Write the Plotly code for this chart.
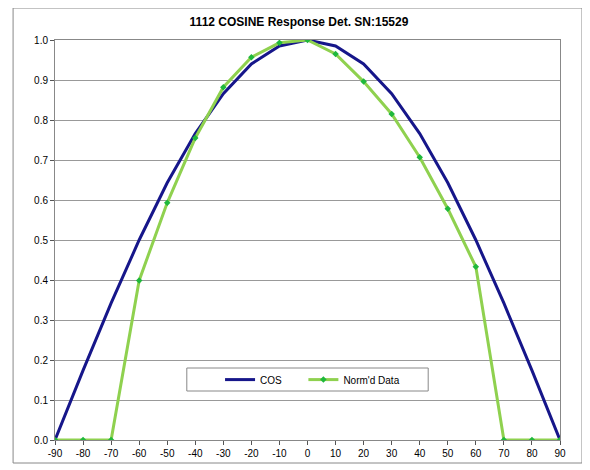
import plotly.graph_objects as go

angles = [-90, -80, -70, -60, -50, -40, -30, -20, -10, 0, 10, 20, 30, 40, 50, 60, 70, 80, 90]
angle_labels = ["-90", "-80", "-70", "-60", "-50", "-40", "-30", "-20", "-10", "0",
                "10", "20", "30", "40", "50", "60", "70", "80", "90"]
cos_vals = [0.0, 0.174, 0.342, 0.5, 0.643, 0.766, 0.866, 0.940, 0.985, 1.0,
            0.985, 0.940, 0.866, 0.766, 0.643, 0.5, 0.342, 0.174, 0.0]
norm_vals = [0.0, 0.0, 0.0, 0.399, 0.593, 0.755, 0.882, 0.957, 0.993, 1.0,
             0.965, 0.896, 0.815, 0.707, 0.578, 0.433, 0.0, 0.0, 0.0]

fig = go.Figure()
fig.add_trace(go.Scatter(x=angles, y=cos_vals, name="COS" + "\u00a0" * 6, mode="lines",
                         line=dict(color="#16168a", width=3)))
fig.add_trace(go.Scatter(x=angles, y=norm_vals, name="Norm'd Data", mode="lines+markers",
                         line=dict(color="#8fd14f", width=3),
                         marker=dict(symbol="diamond", size=5, color="#1fb83c")))

# outer chart border
fig.add_shape(type="rect", xref="paper", yref="paper",
              x0=-0.083, x1=1.0436, y0=-0.0575, y1=1.08,
              line=dict(color="#888888", width=1), fillcolor="rgba(0,0,0,0)", layer="below")
# legend box
fig.add_shape(type="rect", xref="paper", yref="paper",
              x0=0.261, x1=0.739, y0=0.1225, y1=0.18,
              line=dict(color="#888888", width=1), fillcolor="white", layer="above")

fig.update_layout(
    width=582, height=462,
    margin=dict(l=47, r=30, t=32, b=30),
    paper_bgcolor="white", plot_bgcolor="white",
    font=dict(family="Liberation Sans, Arial", size=10, color="black"),
    title=dict(text="<b>1112 COSINE Response Det. SN:15529</b>", x=0.5, xanchor="center",
               y=1 - 14 / 462, yanchor="middle", font=dict(size=12)),
    showlegend=True,
    legend=dict(orientation="h", x=0.51, xanchor="center", y=0.151, yanchor="middle",
                bgcolor="rgba(0,0,0,0)", borderwidth=0,
                font=dict(size=10), itemwidth=30),
    xaxis=dict(range=[-90, 90], tickmode="array", tickvals=angles, ticktext=angle_labels,
               ticks="outside", ticklen=4, tickcolor="#555555",
               showline=True, linecolor="#888888", mirror=True, linewidth=1,
               showgrid=False, zeroline=False),
    yaxis=dict(range=[0, 1.0], dtick=0.1, tickformat=".1f",
               ticks="outside", ticklen=4, tickcolor="#555555",
               showline=True, linecolor="#888888", mirror=True, linewidth=1,
               showgrid=True, gridcolor="#999999", gridwidth=1, zeroline=False),
)

fig.write_html("out.html")
